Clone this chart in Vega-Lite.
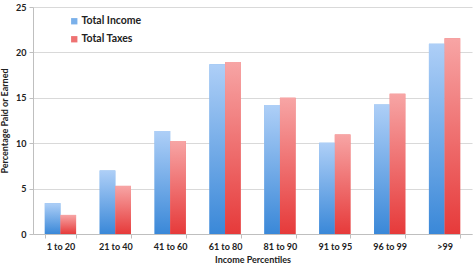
{
  "$schema": "https://vega.github.io/schema/vega-lite/v6.json",
  "width": 439,
  "height": 227,
  "autosize": {"type": "none"},
  "padding": {"left": 33, "top": 7, "right": 4, "bottom": 33},
  "background": "white",
  "config": {
    "font": "Lato",
    "view": {"stroke": null},
    "axis": {"labelFont": "Lato", "titleFont": "Lato", "labelFontWeight": "bold", "titleFontWeight": "bold", "labelColor": "#222", "titleColor": "#222", "domainColor": "#bfbfbf", "tickColor": "#bfbfbf", "gridColor": "#d9d9d9"}
  },
  "data": {
    "values": [
      {"pct": "1 to 20", "series": "Total Income", "value": 3.4},
      {"pct": "1 to 20", "series": "Total Taxes", "value": 2.1},
      {"pct": "21 to 40", "series": "Total Income", "value": 7.0},
      {"pct": "21 to 40", "series": "Total Taxes", "value": 5.3},
      {"pct": "41 to 60", "series": "Total Income", "value": 11.35},
      {"pct": "41 to 60", "series": "Total Taxes", "value": 10.25},
      {"pct": "61 to 80", "series": "Total Income", "value": 18.7},
      {"pct": "61 to 80", "series": "Total Taxes", "value": 18.95},
      {"pct": "81 to 90", "series": "Total Income", "value": 14.2},
      {"pct": "81 to 90", "series": "Total Taxes", "value": 15.0},
      {"pct": "91 to 95", "series": "Total Income", "value": 10.05},
      {"pct": "91 to 95", "series": "Total Taxes", "value": 10.95},
      {"pct": "96 to 99", "series": "Total Income", "value": 14.25},
      {"pct": "96 to 99", "series": "Total Taxes", "value": 15.45},
      {"pct": ">99", "series": "Total Income", "value": 20.95},
      {"pct": ">99", "series": "Total Taxes", "value": 21.55}
    ]
  },
  "encoding": {
    "x": {
      "field": "pct", "type": "nominal", "sort": null,
      "scale": {"paddingInner": 0.43, "paddingOuter": 0.215},
      "axis": {"title": "Income Percentiles", "labelAngle": 0, "labelFontSize": 9, "titleFontSize": 9, "tickBand": "extent", "tickSize": 4, "labelPadding": 4, "titlePadding": 4}
    },
    "xOffset": {"field": "series", "type": "nominal", "scale": {"paddingInner": 0}},
    "y": {
      "field": "value", "type": "quantitative",
      "scale": {"domain": [0, 25]},
      "axis": {"title": "Percentage Paid or Earned", "values": [0, 5, 10, 15, 20, 25], "labelFontSize": 9, "titleFontSize": 9, "tickSize": 4, "labelPadding": 3, "titlePadding": 6, "domain": true}
    }
  },
  "layer": [
    {
      "mark": {"type": "bar"},
      "encoding": {
        "color": {
          "field": "series", "type": "nominal",
          "scale": {"domain": ["Total Income", "Total Taxes"], "range": ["#7ab0ea", "#ee7272"]},
          "legend": {"title": null, "orient": "none", "legendX": 36, "legendY": 9, "symbolType": "square", "symbolSize": 40, "labelFontSize": 10.5, "labelFont": "Lato", "labelFontWeight": "bold", "labelColor": "#222", "rowPadding": 7, "labelOffset": 2}
        }
      }
    },
    {
      "transform": [{"filter": "datum.series === 'Total Income'"}],
      "mark": {"type": "bar", "fill": {"gradient": "linear", "x1": 0, "y1": 0, "x2": 0, "y2": 1, "stops": [{"offset": 0, "color": "#aecff7"}, {"offset": 1, "color": "#3a88d8"}]}}
    },
    {
      "transform": [{"filter": "datum.series === 'Total Taxes'"}],
      "mark": {"type": "bar", "fill": {"gradient": "linear", "x1": 0, "y1": 0, "x2": 0, "y2": 1, "stops": [{"offset": 0, "color": "#f7a5a5"}, {"offset": 1, "color": "#e63a3a"}]}}
    }
  ]
}
